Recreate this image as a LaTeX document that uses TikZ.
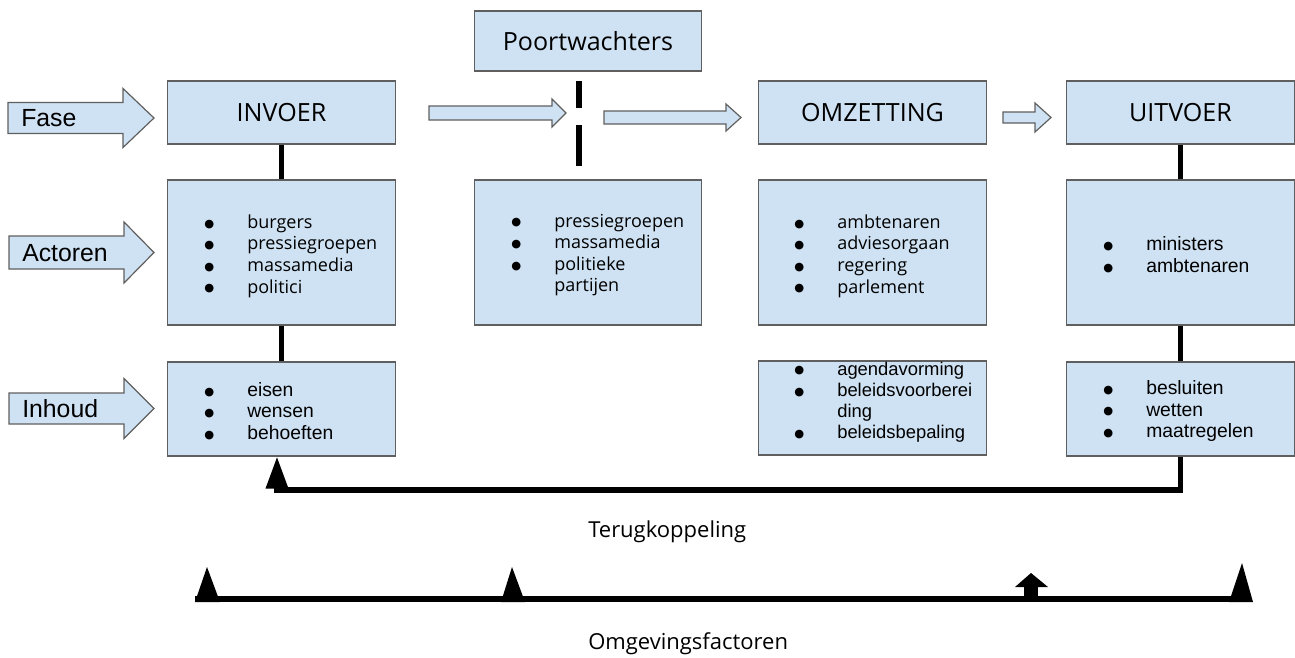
\documentclass[tikz,border=0pt]{standalone}
\usepackage{fontspec}
\setmainfont{Open Sans}
\newfontfamily\arialfont{Liberation Sans}
\newfontfamily\dotfont{DejaVu Sans}
\usetikzlibrary{arrows.meta,calc,positioning}

\definecolor{boxfill}{HTML}{CFE2F3}
\definecolor{boxline}{HTML}{5F5F5F}

\tikzset{
  box/.style={draw=boxline, fill=boxfill, line width=0.9pt, minimum width=170.5pt, inner sep=0pt},
  phase/.style={box, minimum height=47.25pt, font=\fontsize{18.8}{22}\selectfont},
  actors/.style={box, minimum height=108.75pt},
  content/.style={box, minimum height=70.5pt},
  itemlist/.style={anchor=west, align=left, inner sep=0pt},
  listsans/.style={itemlist, font=\fontsize{13.5}{16.2}\selectfont},
  listarial/.style={itemlist, font=\arialfont\fontsize{14.5}{16.2}\selectfont},
  lbl/.style={anchor=west, inner sep=0pt, font=\arialfont\fontsize{18.6}{21}\selectfont},
  caption/.style={anchor=base west, inner sep=0pt, font=\fontsize{16.5}{19}\selectfont},
  blk/.style={draw=boxline, fill=boxfill, line width=0.9pt, line join=miter},
  link/.style={line width=4.2pt},
}

\newcommand{\bul}[1]{\makebox[32.25pt][l]{\raisebox{0.9pt}{\dotfont\fontsize{8.5}{8.5}\selectfont ●}}#1}
\newcommand{\nobul}[1]{\makebox[32.25pt][l]{}#1}
% tail x, tip x, mid y, body half, head half, head length
\newcommand{\blkarrow}[6]{%
  \draw[blk] (#1,{#3-#4}) -- ({#2-#6},{#3-#4}) -- ({#2-#6},{#3-#5}) -- (#2,#3)
    -- ({#2-#6},{#3+#5}) -- ({#2-#6},{#3+#4}) -- (#1,{#3+#4}) -- cycle;}
% left x, apex x, right x, apex y, base y
\newcommand{\peak}[5]{\fill (#1,#5) -- (#2,#4) -- (#3,#5) -- cycle;}

\begin{document}
\begin{tikzpicture}[x=0.75pt, y=-0.75pt]
\useasboundingbox (0,0) rectangle (1295,657);

\node[phase] (poort) at (588,41) [minimum height=45pt] {Poortwachters};
\node[phase] (invoer) at (281.5,112.5) {INVOER};
\node[phase] (omzet) at (872.5,112.5) {OMZETTING};
\node[phase] (uitvoer) at (1180.5,112.5) {UITVOER};

\node[actors] (invAct) at (281.5,252.5) {};
\node[actors] (poortAct) at (588,252.5) {};
\node[actors] (omzAct) at (872.5,252.5) {};
\node[actors] (uitAct) at (1180.5,252.5) {};
\node[content] (invInh) at (281.5,409) {};
\node[content] (omzInh) at (872.5,408) {};
\node[content] (uitInh) at (1180.5,409) {};

\node[listsans] (invActList) at (204,256)
  {\bul{burgers}\\ \bul{pressiegroepen}\\ \bul{massamedia}\\ \bul{politici}};
\node[listsans] (poortActList) at (511,255)
  {\bul{pressiegroepen}\\ \bul{massamedia}\\ \bul{politieke}\\ \nobul{partijen}};
\node[listsans] (omzActList) at (794,256)
  {\bul{ambtenaren}\\ \bul{adviesorgaan}\\ \bul{regering}\\ \bul{parlement}};
\node[listarial] (uitActList) at (1103,254.5)
  {\bul{ministers}\\ \bul{ambtenaren}};
\node[listarial] (invInhList) at (204,411)
  {\bul{eisen}\\ \bul{wensen}\\ \bul{behoeften}};
\node[listarial, font=\arialfont\fontsize{13.8}{15.8}\selectfont] (omzInhList) at (794,402)
  {\bul{agendavorming}\\ \bul{beleidsvoorberei}\\ \nobul{ding}\\ \bul{beleidsbepaling}};
\node[listarial] (uitInhList) at (1103,411)
  {\bul{besluiten}\\ \bul{wetten}\\ \bul{maatregelen}};

\blkarrow{8}{154}{118}{15.5}{29.5}{31}
\blkarrow{9}{154}{252.5}{16.5}{30.5}{30}
\blkarrow{9}{154}{408.5}{15.5}{30}{30}
\node[lbl] (fase) at (21,118.5) {Fase};
\node[lbl] (actoren) at (22,253) {Actoren};
\node[lbl] (inhoud) at (22,409) {Inhoud};

\blkarrow{429}{566}{113}{7}{14}{14}
\blkarrow{604}{741}{117.5}{6.5}{13.5}{15}
\blkarrow{1003}{1051}{117.5}{5.5}{14.5}{16}

\coordinate (gateA) at (579,81);
\coordinate (gateB) at (579,108);
\coordinate (gateC) at (579,125);
\coordinate (gateD) at (579,166);
\draw[link] (gateA) -- (gateB) (gateC) -- (gateD);

\draw[link] (invoer) -- (invAct) (invAct) -- (invInh);
\draw[link] (uitvoer) -- (uitAct) (uitAct) -- (uitInh);

\coordinate (fbL) at (277,490);
\draw[link, -{Triangle[length=24pt, width=16pt]}]
  (uitInh.south) |- (fbL) -- (fbL |- invInh.south);
\node[caption] (terug) at (588,537) {Terugkoppeling};

\coordinate (envL) at (195,599);
\coordinate (envR) at (1243,599);
\draw[link] (envL) -- (envR);
\peak{195}{207}{220}{567}{602}
\peak{501}{512}{525}{567}{602}
\peak{1229}{1242}{1253}{563}{602}
\fill (1024,599) rectangle (1038,587);
\peak{1015}{1031}{1048}{573}{587}
\node[caption] (omgeving) at (588,649) {Omgevingsfactoren};
\end{tikzpicture}
\end{document}
